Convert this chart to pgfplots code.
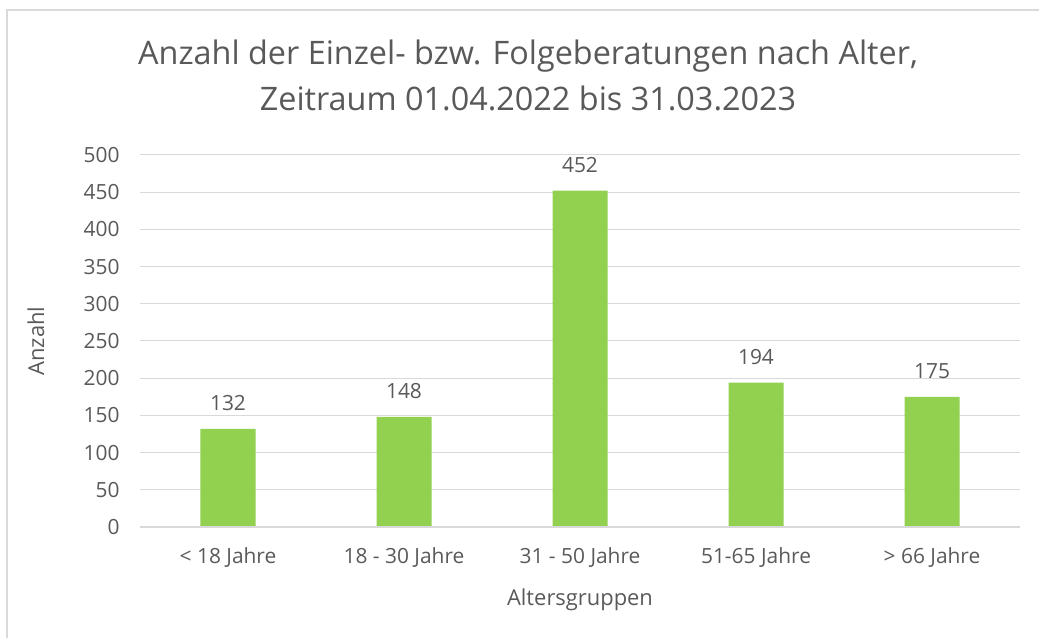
\documentclass[border=0pt]{standalone}
\usepackage{pgfplots}
\pgfplotsset{compat=1.18}
\usepackage{fontspec}
\setmainfont{Open Sans}
\definecolor{txt}{HTML}{595959}
\definecolor{gridc}{HTML}{D9D9D9}
\definecolor{barc}{HTML}{92D050}
\begin{document}
\begin{tikzpicture}[x=1bp,y=1bp]
\useasboundingbox (-140,-111) rectangle (899,527);
\draw[gridc,line width=1.5bp] (-133,-130) -- (-133,517) -- (920,517);
\begin{axis}[
  at={(0,0)}, anchor=south west,
  scale only axis, width=880bp, height=372bp,
  xmin=-0.5, xmax=4.5, ymin=0, ymax=500,
  ytick={0,50,...,500},
  xtick=data,
  xticklabels={{< 18 Jahre},{18 - 30 Jahre},{31 - 50 Jahre},{51-65 Jahre},{> 66 Jahre}},
  major tick length=0pt,
  axis line style={draw=none},
  xmajorgrids=false, ymajorgrids=true,
  y grid style={draw=gridc, line width=1bp},
  ybar, bar width=55bp,
  every tick label/.append style={font=\fontsize{21}{25}\selectfont, text=txt},
  yticklabel style={xshift=-17bp},
  xticklabel style={yshift=-17bp},
  /pgf/number format/assume math mode=true,
  xlabel={Altersgruppen}, ylabel={Anzahl},
  every axis x label/.style={at={(axis description cs:0.5,0)}, anchor=center, yshift=-73bp, font=\fontsize{22}{26}\selectfont, text=txt},
  every axis y label/.style={at={(axis description cs:-0.1182,0.5)}, rotate=90, anchor=center, font=\fontsize{22}{26}\selectfont, text=txt},
  title={Anzahl der Einzel- bzw. Folgeberatungen nach Alter,\\Zeitraum 01.04.2022 bis 31.03.2023},
  title style={at={(axis description cs:0.4409,1.197)}, anchor=center, align=center, font=\fontsize{32.5}{46}\selectfont, text=txt},
  nodes near coords,
  every node near coord/.append style={font=\fontsize{21}{25}\selectfont, text=txt, inner sep=0pt, anchor=base, yshift=18bp},
  clip=false,
]
\addplot[fill=barc, draw=none] coordinates {(0,132) (1,148) (2,452) (3,194) (4,175)};
\draw[gridc, line width=1.5bp] (axis cs:-0.5,0) -- (axis cs:4.5,0);
\end{axis}
\end{tikzpicture}
\end{document}
